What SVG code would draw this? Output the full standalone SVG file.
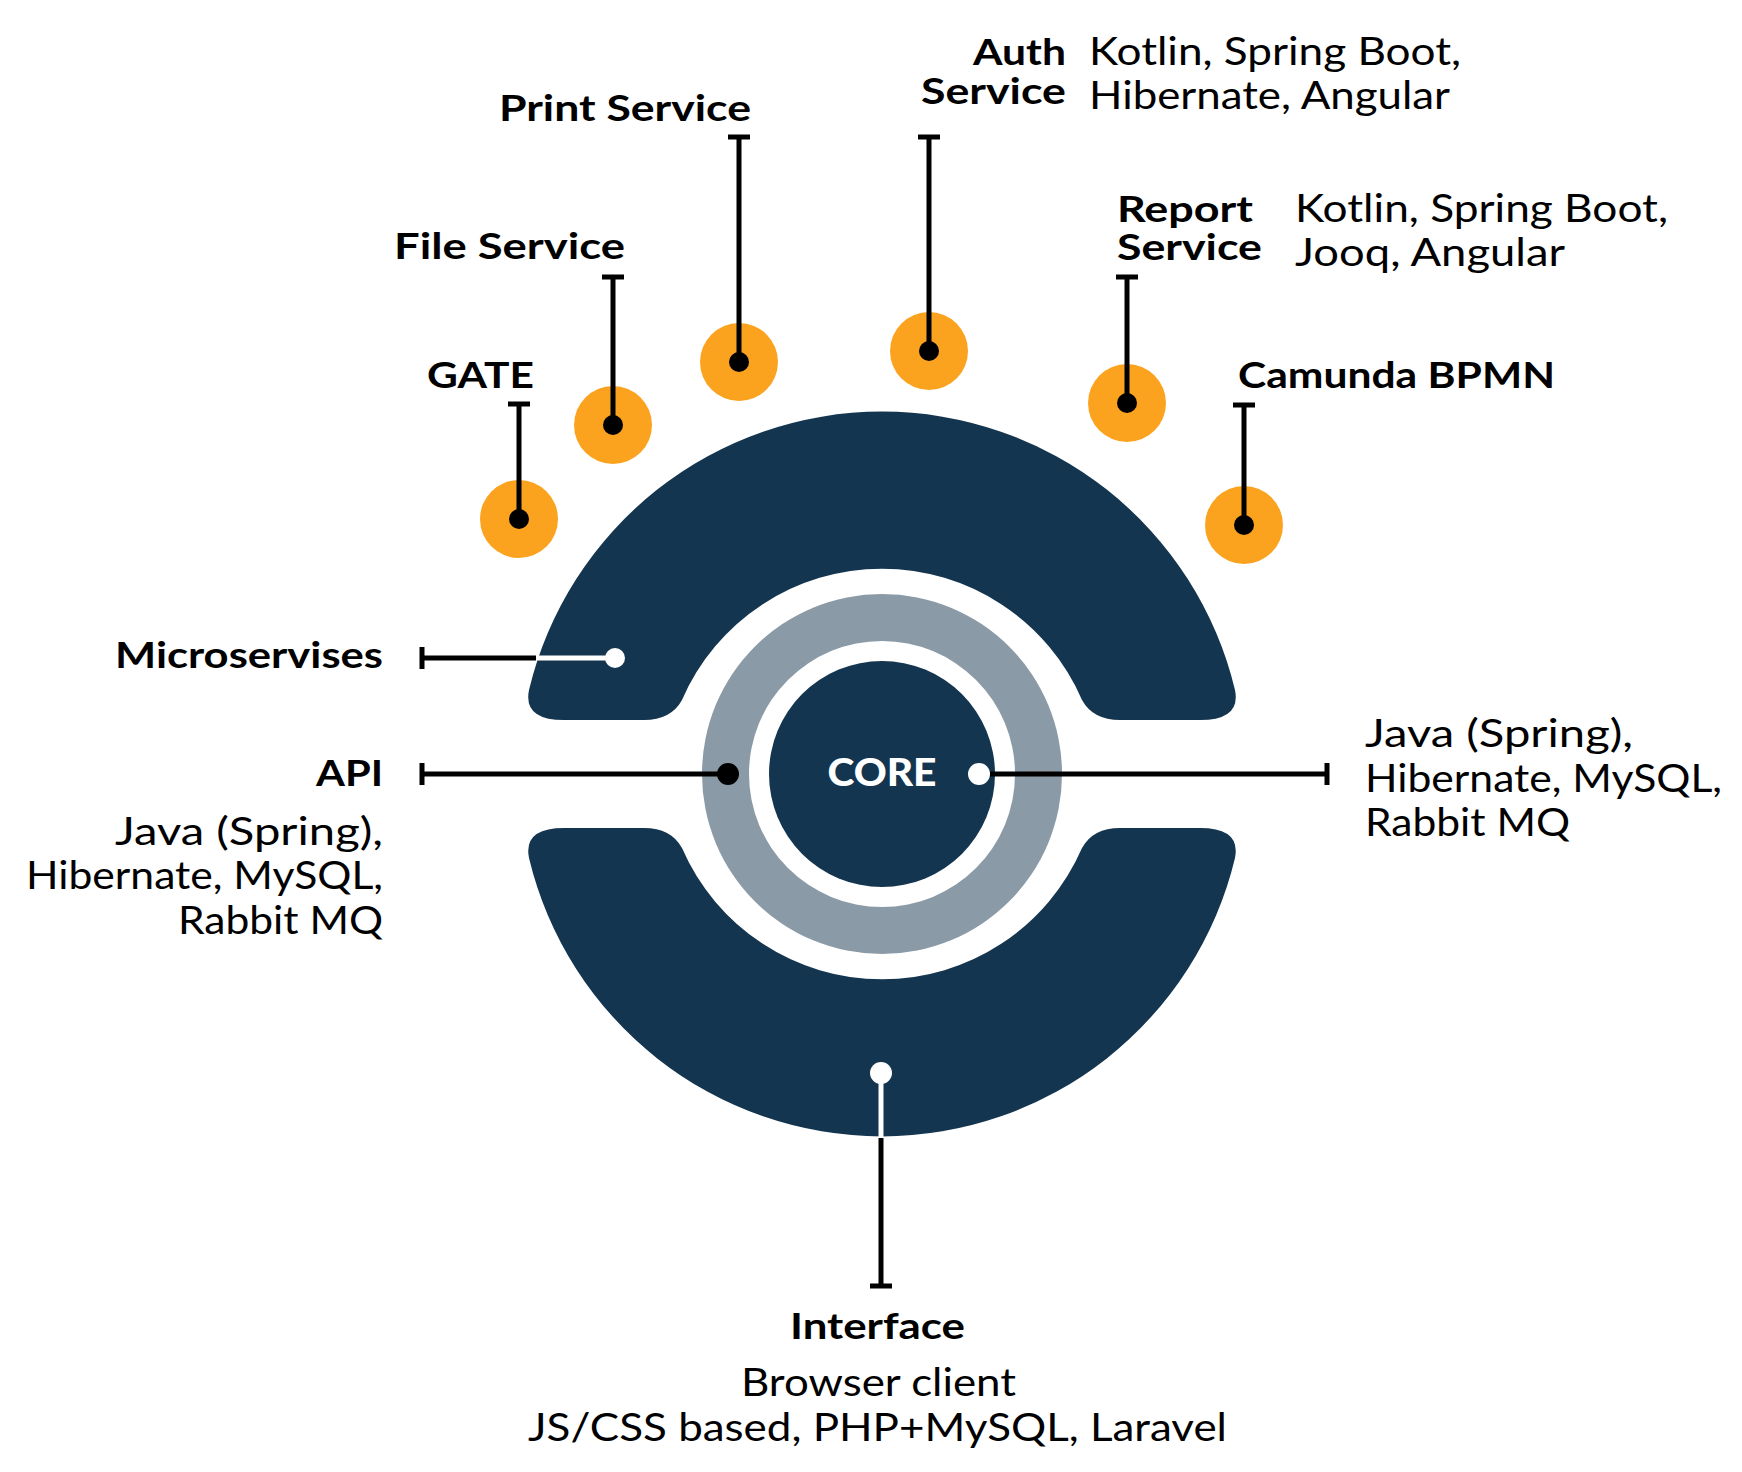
<svg xmlns="http://www.w3.org/2000/svg" width="1742" height="1472" viewBox="0 0 1742 1472">
<style>
.b{font-family:Lato,"Liberation Sans",sans-serif;font-weight:bold;font-size:37px;fill:#000}
.r{font-family:Lato,"Liberation Sans",sans-serif;font-size:38px;fill:#000}
.k{stroke:#000;stroke-width:5;fill:none}
.w{stroke:#fff;stroke-width:5;fill:none}
.o{fill:#fba31f}
.d{fill:#000}
.dark{fill:#14354f}
</style>
<rect width="1742" height="1472" fill="#fff"/>
<g id="microservices">
<path class="dark" d="M529 690 A363 363 0 0 1 1235 690 Q1241 720 1200 720 L1120 720 Q1093 720 1082 700 A218 218 0 0 0 682 700 Q671 720 644 720 L564 720 Q523 720 529 690 Z"/>
</g>
<g id="interface">
<path class="dark" d="M529 858 A363 363 0 0 0 1235 858 Q1241 828 1200 828 L1120 828 Q1093 828 1082 848 A218 218 0 0 1 682 848 Q671 828 644 828 L564 828 Q523 828 529 858 Z"/>
</g>
<g id="core">
<circle cx="882" cy="774" r="180" fill="#8a9aa6"/>
<circle cx="882" cy="774" r="133" fill="#fff"/>
<circle cx="882" cy="774" r="113" fill="#14354f"/>
<text x="882" y="786" text-anchor="middle" class="b" style="fill:#fff;font-weight:900" textLength="109" lengthAdjust="spacingAndGlyphs">CORE</text>
</g>
<g id="gate"><circle class="o" cx="519" cy="519" r="39"/><text class="b" x="427" y="388" textLength="107" lengthAdjust="spacingAndGlyphs">GATE</text></g>
<g id="file"><circle class="o" cx="613" cy="425" r="39"/><text class="b" x="394" y="259" textLength="231" lengthAdjust="spacingAndGlyphs">File Service</text></g>
<g id="print"><circle class="o" cx="739" cy="362" r="39"/><text class="b" x="499" y="121" textLength="252" lengthAdjust="spacingAndGlyphs">Print Service</text></g>
<g id="auth"><circle class="o" cx="929" cy="351" r="39"/>
<text class="b" x="973" y="65" textLength="93" lengthAdjust="spacingAndGlyphs">Auth</text><text class="b" x="921" y="104" textLength="145" lengthAdjust="spacingAndGlyphs">Service</text>
<text class="r" x="1089" y="65" textLength="372" lengthAdjust="spacingAndGlyphs">Kotlin, Spring Boot,</text><text class="r" x="1089" y="109" textLength="361" lengthAdjust="spacingAndGlyphs">Hibernate, Angular</text></g>
<g id="report"><circle class="o" cx="1127" cy="403" r="39"/>
<text class="b" x="1117" y="222" textLength="136" lengthAdjust="spacingAndGlyphs">Report</text><text class="b" x="1117" y="260" textLength="145" lengthAdjust="spacingAndGlyphs">Service</text>
<text class="r" x="1295" y="222" textLength="373" lengthAdjust="spacingAndGlyphs">Kotlin, Spring Boot,</text><text class="r" x="1295" y="266" textLength="270" lengthAdjust="spacingAndGlyphs">Jooq, Angular</text></g>
<g id="camunda"><circle class="o" cx="1244" cy="525" r="39"/><text class="b" x="1238" y="388" textLength="317" lengthAdjust="spacingAndGlyphs">Camunda BPMN</text></g>
<g id="labels">
<text class="b" x="115" y="668" textLength="268" lengthAdjust="spacingAndGlyphs">Microservises</text>
<text class="b" x="316" y="786" textLength="67" lengthAdjust="spacingAndGlyphs">API</text>
<text class="r" x="115" y="845" textLength="268" lengthAdjust="spacingAndGlyphs">Java (Spring),</text>
<text class="r" x="26" y="889" textLength="357" lengthAdjust="spacingAndGlyphs">Hibernate, MySQL,</text>
<text class="r" x="178" y="934" textLength="205" lengthAdjust="spacingAndGlyphs">Rabbit MQ</text>
<text class="r" x="1365" y="747" textLength="268" lengthAdjust="spacingAndGlyphs">Java (Spring),</text>
<text class="r" x="1365" y="792" textLength="357" lengthAdjust="spacingAndGlyphs">Hibernate, MySQL,</text>
<text class="r" x="1365" y="836" textLength="205" lengthAdjust="spacingAndGlyphs">Rabbit MQ</text>
<text class="b" x="790" y="1339" textLength="175" lengthAdjust="spacingAndGlyphs">Interface</text>
<text class="r" x="741" y="1396" textLength="275" lengthAdjust="spacingAndGlyphs">Browser client</text>
<text class="r" x="528" y="1441" textLength="699" lengthAdjust="spacingAndGlyphs">JS/CSS based, PHP+MySQL, Laravel</text>
</g>
<g id="connectors">
<path class="k" d="M519 519V404M508 404H530"/><circle class="d" cx="519" cy="519" r="10"/>
<path class="k" d="M613 425V277M602 277H624"/><circle class="d" cx="613" cy="425" r="10"/>
<path class="k" d="M739 362V137M728 137H750"/><circle class="d" cx="739" cy="362" r="10"/>
<path class="k" d="M929 351V137M918 137H940"/><circle class="d" cx="929" cy="351" r="10"/>
<path class="k" d="M1127 403V277M1116 277H1138"/><circle class="d" cx="1127" cy="403" r="10"/>
<path class="k" d="M1244 525V405M1233 405H1255"/><circle class="d" cx="1244" cy="525" r="10"/>
<path class="k" d="M422 658H536M422 647V669"/><path class="w" d="M536 658H612"/><circle cx="615" cy="658" r="10" fill="#fff"/>
<path class="k" d="M422 774H728M422 763V785"/><circle class="d" cx="728" cy="774" r="11"/>
<path class="k" d="M979 774H1327M1327 763V785"/><circle cx="979" cy="774" r="11" fill="#fff"/>
<path class="w" d="M881 1073V1138"/><path class="k" d="M881 1138V1286M870 1286H892"/><circle cx="881" cy="1073" r="11" fill="#fff"/>
</g>
</svg>
